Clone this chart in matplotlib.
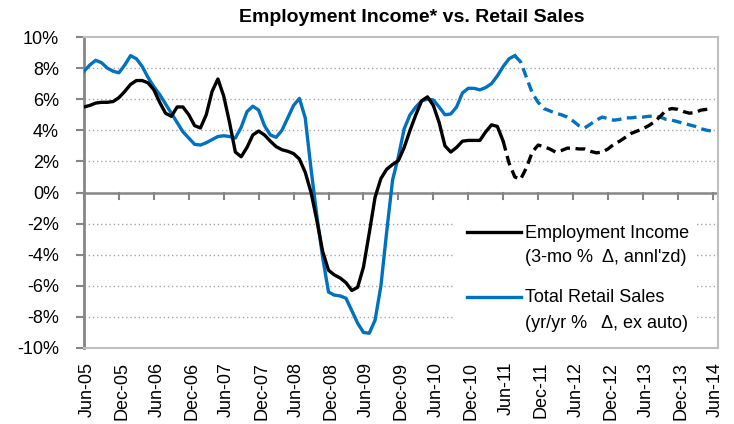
import matplotlib
matplotlib.use("Agg")
import matplotlib.pyplot as plt
import matplotlib.transforms as mtransforms
from matplotlib.lines import Line2D
from matplotlib.patches import Rectangle
import numpy as np

plt.rcParams['font.family'] = ['Liberation Sans Narrow', 'Liberation Sans', 'DejaVu Sans']
plt.rcParams['lines.scale_dashes'] = False

# monthly data, Jun-05 .. Jun-14
employment = [5.5, 5.6, 5.75, 5.8, 5.8, 5.85, 6.1, 6.5, 6.95, 7.2, 7.2, 7.05,
              6.6, 5.8, 5.1, 4.9, 5.5, 5.5, 5.0, 4.3, 4.15, 5.0, 6.5, 7.3,
              6.2, 4.5, 2.6, 2.3, 2.9, 3.7, 3.95, 3.7, 3.3, 2.95, 2.75, 2.65,
              2.5, 2.15, 1.3, 0.0, -1.8, -3.8, -5.0, -5.3, -5.5, -5.8, -6.3, -6.1,
              -4.8, -2.6, -0.3, 0.9, 1.5, 1.8, 2.05, 2.9, 4.0, 5.0, 5.9, 6.15,
              5.6, 4.5, 3.0, 2.6, 2.9, 3.3, 3.35, 3.35, 3.35, 3.9, 4.35, 4.25,
              3.3, 1.9, 1.0, 0.85, 1.6, 2.6, 3.05, 2.95, 2.8, 2.6, 2.7, 2.85,
              2.85, 2.8, 2.8, 2.65, 2.55, 2.6, 2.8, 3.1, 3.3, 3.55, 3.8, 3.95,
              4.1, 4.3, 4.55, 4.9, 5.3, 5.4, 5.35, 5.2, 5.1, 5.15, 5.3, 5.35,
              5.4]
retail = [7.8, 8.2, 8.5, 8.35, 8.0, 7.8, 7.7, 8.2, 8.8, 8.6, 8.1, 7.4,
          6.8, 6.3, 5.7, 5.1, 4.5, 3.9, 3.5, 3.1, 3.05, 3.2, 3.4, 3.6,
          3.65, 3.6, 3.5, 4.2, 5.2, 5.55, 5.3, 4.3, 3.7, 3.55, 4.0, 4.8,
          5.6, 6.05, 4.8, 1.5, -1.5, -4.2, -6.4, -6.6, -6.65, -6.8, -7.6, -8.4,
          -9.0, -9.05, -8.2, -6.0, -2.5, 0.8, 2.3, 4.1, 5.0, 5.5, 5.9, 6.0,
          5.95, 5.5, 5.0, 5.05, 5.5, 6.4, 6.7, 6.7, 6.6, 6.75, 7.0, 7.5,
          8.1, 8.6, 8.8, 8.4, 7.4, 6.4, 5.8, 5.4, 5.25, 5.1, 5.0, 4.85,
          4.6, 4.3, 4.15, 4.4, 4.65, 4.85, 4.75, 4.65, 4.7, 4.8, 4.8, 4.85,
          4.85, 4.9, 4.9, 4.85, 4.7, 4.65, 4.55, 4.45, 4.35, 4.25, 4.1, 4.0,
          3.95]
emp_actual_end = 72     # Jun-11, forecast after
ret_actual_end = 74     # Aug-11

tick_labels = ['Jun-05', 'Dec-05', 'Jun-06', 'Dec-06', 'Jun-07', 'Dec-07',
               'Jun-08', 'Dec-08', 'Jun-09', 'Dec-09', 'Jun-10', 'Dec-10',
               'Jun-11', 'Dec-11', 'Jun-12', 'Dec-12', 'Jun-13', 'Dec-13',
               'Jun-14']
y_ticks = [-10, -8, -6, -4, -2, 0, 2, 4, 6, 8, 10]
legend_labels = [("Employment Income", "(3-mo %  \u0394, annl'zd)"),
                 ("Total Retail Sales", "(yr/yr %   \u0394, ex auto)")]

months = np.arange(len(employment))
emp = np.array(employment)
ret = np.array(retail)

black = '#000000'
blue = '#0070C0'
lw = 2.4

W, H = 734, 424
fig = plt.figure(figsize=(W / 100, H / 100), dpi=100)
ax = fig.add_axes([84 / W, 1 - 348 / H, 634 / W, 311 / H])

e = emp_actual_end
r = ret_actual_end
ax.plot(months[:e + 1], emp[:e + 1], color=black, lw=lw, zorder=4)
ax.plot(months[e:], emp[e:], color=black, lw=lw, dashes=(7, 4), zorder=4)
ax.plot(months[:r + 1], ret[:r + 1], color=blue, lw=lw, zorder=3)
ax.plot(months[r:], ret[r:], color=blue, lw=lw, dashes=(7, 4), zorder=3)

ax.set_xlim(0, 108.9)
ax.set_ylim(-10, 10)

# dotted gridlines
for v in y_ticks:
    if v in (-10, 0, 10):
        continue
    ax.axhline(v, color='#A6A6A6', lw=1.0, ls=(0, (1, 2)), zorder=1)

for s in ['top', 'right', 'bottom']:
    ax.spines[s].set_color('#BFBFBF')
    ax.spines[s].set_linewidth(1.5)
ax.spines['left'].set_color('#868686')
ax.spines['left'].set_linewidth(2)

ax.set_yticks(y_ticks)
ax.set_yticklabels([f'{v}%' for v in y_ticks])
ax.tick_params(axis='y', direction='out', length=6, width=1.5, color='#868686',
               labelsize=13, pad=12)

# zero axis with downward ticks
ax.axhline(0, color='#868686', lw=1.8, zorder=2)
ax.set_xticks([])
tick_pos = np.arange(0, 109, 6)
trans = mtransforms.blended_transform_factory(ax.transData, ax.transAxes)
for xp in tick_pos:
    ax.plot([xp, xp], [0.5, 0.478], color='#868686', lw=1.5,
            transform=trans, clip_on=False, zorder=2)
for xp, lab in zip(tick_pos, tick_labels):
    ax.text(xp + 0.5, -0.045, lab, transform=trans, rotation=90, ha='center',
            va='top', fontsize=13)

# legend drawn by hand: handle aligned with first line of each label
fig.patches.append(Rectangle((454 / W, 1 - 340 / H), 242 / W, 128 / H,
                             transform=fig.transFigure, facecolor='white',
                             edgecolor='none', zorder=5))
for (l1, l2), col, py in zip(legend_labels, [black, blue], [232, 297]):
    fig.lines.append(Line2D([467 / W, 521 / W], [1 - py / H, 1 - py / H],
                            transform=fig.transFigure, color=col, lw=lw,
                            zorder=6))
    fig.text(525 / W, 1 - (py + 1) / H, l1, ha='left', va='center',
             fontsize=13, zorder=6)
    fig.text(525 / W, 1 - (py + 26) / H, l2, ha='left', va='center',
             fontsize=13, zorder=6)

fig.text(412 / W, 1 - 17 / H, 'Employment Income* vs. Retail Sales',
         ha='center', va='center', fontsize=14, fontweight='bold')

fig.savefig('out.png', dpi=100)
